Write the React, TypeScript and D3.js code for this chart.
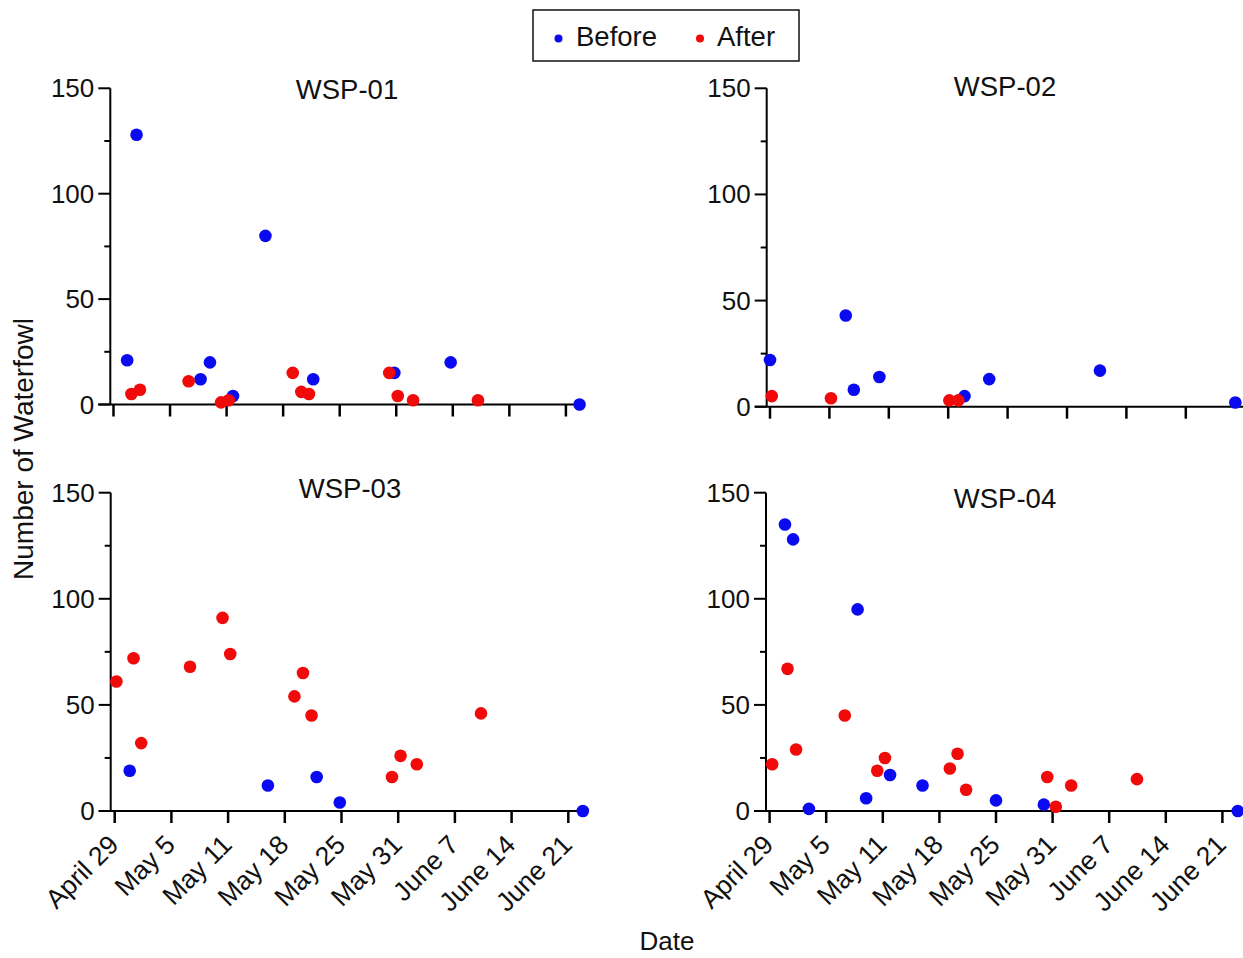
import React from "react";
import * as d3 from "d3";

// Survey days are counted from April 29 (day 0).
const dateTickDays = [0, 6.625, 13.25, 19.875, 26.5, 33.125, 39.75, 46.375, 53];
const dateTickLabels = [
  "April 29", "May 5", "May 11", "May 18", "May 25",
  "May 31", "June 7", "June 14", "June 21",
];
const countTicks = [0, 50, 100, 150];
const countMinorTicks = [25, 75, 125];

const seriesNames = ["Before", "After"];

// WSP-01
const wsp01Before = [
  { day: 1.6, count: 21 }, { day: 2.7, count: 128 }, { day: 10.2, count: 12 },
  { day: 11.3, count: 20 }, { day: 14.0, count: 4 }, { day: 17.8, count: 80 },
  { day: 23.4, count: 12 }, { day: 32.9, count: 15 }, { day: 39.5, count: 20 },
  { day: 54.6, count: 0 },
];
const wsp01After = [
  { day: 2.1, count: 5 }, { day: 3.1, count: 7 }, { day: 8.8, count: 11 },
  { day: 12.6, count: 1 }, { day: 13.5, count: 2 }, { day: 21.0, count: 15 },
  { day: 22.0, count: 6 }, { day: 22.9, count: 5 }, { day: 32.3, count: 15 },
  { day: 33.3, count: 4 }, { day: 35.1, count: 2 }, { day: 42.7, count: 2 },
];

// WSP-02
const wsp02Before = [
  { day: 0.0, count: 22 }, { day: 8.45, count: 43 }, { day: 9.35, count: 8 },
  { day: 12.2, count: 14 }, { day: 21.7, count: 5 }, { day: 24.45, count: 13 },
  { day: 36.8, count: 17 }, { day: 51.9, count: 2 },
];
const wsp02After = [
  { day: 0.2, count: 5 }, { day: 6.8, count: 4 }, { day: 20.0, count: 3 },
  { day: 21.0, count: 3 },
];

// WSP-03
const wsp03Before = [
  { day: 1.75, count: 19 }, { day: 17.9, count: 12 }, { day: 23.6, count: 16 },
  { day: 26.3, count: 4 }, { day: 54.7, count: 0 },
];
const wsp03After = [
  { day: 0.2, count: 61 }, { day: 2.2, count: 72 }, { day: 3.1, count: 32 },
  { day: 8.8, count: 68 }, { day: 12.6, count: 91 }, { day: 13.5, count: 74 },
  { day: 21.0, count: 54 }, { day: 22.0, count: 65 }, { day: 23.0, count: 45 },
  { day: 32.4, count: 16 }, { day: 33.4, count: 26 }, { day: 35.3, count: 22 },
  { day: 42.8, count: 46 },
];

// WSP-04
const wsp04Before = [
  { day: 1.8, count: 135 }, { day: 2.75, count: 128 }, { day: 4.6, count: 1 },
  { day: 10.3, count: 95 }, { day: 11.3, count: 6 }, { day: 14.1, count: 17 },
  { day: 17.9, count: 12 }, { day: 26.5, count: 5 }, { day: 32.1, count: 3 },
  { day: 54.8, count: 0 },
];
const wsp04After = [
  { day: 0.3, count: 22 }, { day: 2.1, count: 67 }, { day: 3.1, count: 29 },
  { day: 8.8, count: 45 }, { day: 12.6, count: 19 }, { day: 13.5, count: 25 },
  { day: 21.1, count: 20 }, { day: 22.0, count: 27 }, { day: 23.0, count: 10 },
  { day: 32.5, count: 16 }, { day: 33.5, count: 2 }, { day: 35.3, count: 12 },
  { day: 43.0, count: 15 },
];

const BLUE = "#0a0af0";
const RED = "#f00a0a";
const FONT = "'Liberation Sans', Arial, Helvetica, sans-serif";

type Pt = { day: number; count: number };
type PanelLayout = {
  title: string;
  titleX: number;
  titleY: number;
  axisX: number; // position of the vertical axis line
  x0: number; // pixel of day 0
  step: number; // pixels between date ticks
  yTop: number;
  yBottom: number;
  showDates: boolean;
  before: Pt[];
  after: Pt[];
};

const panels: PanelLayout[] = [
  { title: "WSP-01", titleX: 347, titleY: 99, axisX: 110.3, x0: 113.5, step: 56.55, yTop: 88.3, yBottom: 404.5, showDates: false, before: wsp01Before, after: wsp01After },
  { title: "WSP-02", titleX: 1005, titleY: 96, axisX: 766.7, x0: 770, step: 59.4, yTop: 88.3, yBottom: 406.7, showDates: false, before: wsp02Before, after: wsp02After },
  { title: "WSP-03", titleX: 350, titleY: 498, axisX: 110.7, x0: 114.7, step: 56.7, yTop: 492.7, yBottom: 811, showDates: true, before: wsp03Before, after: wsp03After },
  { title: "WSP-04", titleX: 1005, titleY: 508, axisX: 766, x0: 769.6, step: 56.6, yTop: 492.7, yBottom: 811, showDates: true, before: wsp04Before, after: wsp04After },
];

const MAJOR = 12;
const MINOR = 6;
const AXIS_END_DAY = 55;
const DOT_R = 6.3;

function Panel({ p }: { p: PanelLayout }) {
  const x = d3.scaleLinear().domain([0, 53]).range([p.x0, p.x0 + 8 * p.step]);
  const y = d3.scaleLinear().domain([0, 150]).range([p.yBottom, p.yTop]);
  const y0 = y(0);
  return (
    <g>
      <text x={p.titleX} y={p.titleY} textAnchor="middle" fontSize={27.5} fill="#111">
        {p.title}
      </text>
      {/* axes */}
      <line x1={p.axisX} x2={p.axisX} y1={y(150)} y2={y0} stroke="#000" strokeWidth={2} />
      <line x1={p.axisX - MAJOR} x2={x(AXIS_END_DAY)} y1={y0} y2={y0} stroke="#000" strokeWidth={2} />
      {countTicks.map((t) => (
        <g key={"y" + t}>
          <line x1={p.axisX - MAJOR} x2={p.axisX} y1={y(t)} y2={y(t)} stroke="#000" strokeWidth={2} />
          <text x={p.axisX - MAJOR - 4} y={y(t)} textAnchor="end" dominantBaseline="central" fontSize={26} fill="#111">
            {t}
          </text>
        </g>
      ))}
      {countMinorTicks.map((t) => (
        <line key={"ym" + t} x1={p.axisX - MINOR} x2={p.axisX} y1={y(t)} y2={y(t)} stroke="#000" strokeWidth={2} />
      ))}
      {dateTickDays.map((d, i) => (
        <g key={"x" + i}>
          <line x1={x(d)} x2={x(d)} y1={y0} y2={y0 + MAJOR} stroke="#000" strokeWidth={2.5} />
          {p.showDates && (
            <text
              transform={`translate(${x(d) - 1},${y0 + 29}) rotate(-45)`}
              textAnchor="end"
              dominantBaseline="central"
              fontSize={26.5}
              fill="#111"
            >
              {dateTickLabels[i]}
            </text>
          )}
        </g>
      ))}
      {p.before.map((d, i) => (
        <circle key={"b" + i} cx={x(d.day)} cy={y(d.count)} r={DOT_R} fill={BLUE} />
      ))}
      {p.after.map((d, i) => (
        <circle key={"a" + i} cx={x(d.day)} cy={y(d.count)} r={DOT_R} fill={RED} />
      ))}
    </g>
  );
}

export default function App() {
  return (
    <svg
      width={1243}
      height={958}
      style={{ position: "absolute", left: 0, top: 0, display: "block", background: "#fff" }}
      fontFamily={FONT}
    >
      <rect x={0} y={0} width={1243} height={958} fill="#fff" />
      {panels.map((p) => (
        <Panel key={p.title} p={p} />
      ))}
      {/* legend */}
      <rect x={533} y={10} width={266} height={51} fill="#fff" stroke="#111" strokeWidth={1.5} />
      <circle cx={558.5} cy={38.5} r={4} fill={BLUE} />
      <text x={576} y={46} fontSize={27.5} fill="#111">{seriesNames[0]}</text>
      <circle cx={700} cy={38.5} r={4} fill={RED} />
      <text x={717} y={46} fontSize={27.5} fill="#111">{seriesNames[1]}</text>
      {/* shared axis titles */}
      <text transform="translate(33,449) rotate(-90)" textAnchor="middle" fontSize={28} fill="#111">
        Number of Waterfowl
      </text>
      <text x={667} y={950} textAnchor="middle" fontSize={26} fill="#111">
        Date
      </text>
    </svg>
  );
}
